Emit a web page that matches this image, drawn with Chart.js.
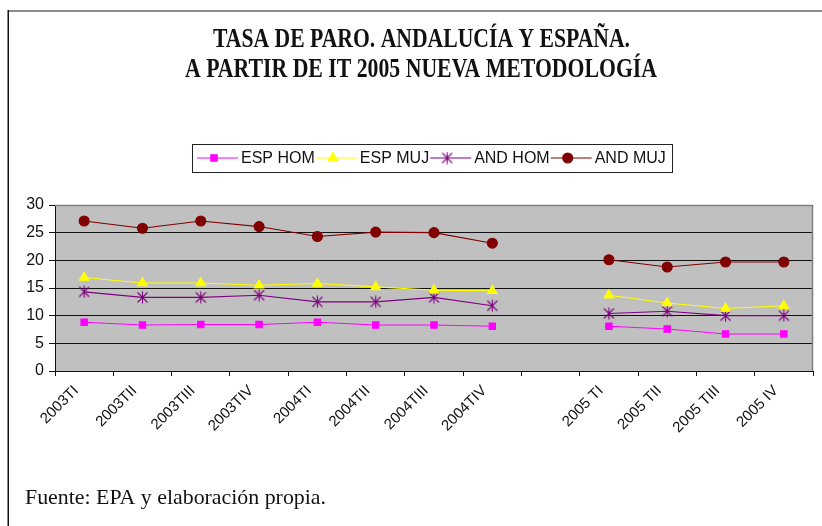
<!DOCTYPE html>
<html>
<head>
<meta charset="utf-8">
<script src="https://cdn.jsdelivr.net/npm/chart.js@4/dist/chart.umd.min.js"></script>
<style>
html,body{margin:0;padding:0;background:#fff;}
#wrap{position:relative;width:822px;height:526px;}
</style>
</head>
<body>
<div id="wrap"><canvas id="c" width="822" height="526"></canvas></div>
<script>
const titleLines = ['TASA DE PARO. ANDALUCÍA Y ESPAÑA.', 'A PARTIR DE IT 2005 NUEVA METODOLOGÍA'];
const sourceNote = 'Fuente: EPA y elaboración propia.';
const categories = ['2003TI','2003TII','2003TIII','2003TIV','2004TI','2004TII','2004TIII','2004TIV','','2005 TI','2005 TII','2005 TIII','2005 IV'];
const seriesNames = ['ESP HOM','ESP MUJ','AND HOM','AND MUJ'];
const espHom = [8.8, 8.3, 8.4, 8.4, 8.8, 8.3, 8.3, 8.1, null, 8.1, 7.6, 6.7, 6.7];
const espMuj = [16.9, 15.9, 15.9, 15.5, 15.8, 15.2, 14.6, 14.5, null, 13.7, 12.3, 11.3, 11.8];
const andHom = [14.3, 13.3, 13.3, 13.7, 12.5, 12.5, 13.3, 11.8, null, 10.4, 10.8, 10.0, 10.0];
const andMuj = [27.1, 25.8, 27.1, 26.1, 24.3, 25.1, 25.0, 23.1, null, 20.1, 18.8, 19.7, 19.7];
const yTicks = [0, 5, 10, 15, 20, 25, 30];

// asterisk marker (vertical bar + X)
function makeStar(color){
  const c = document.createElement('canvas');
  c.width = 13; c.height = 13;
  const g = c.getContext('2d');
  g.strokeStyle = color; g.lineWidth = 1.1;
  g.beginPath();
  g.moveTo(6.5,0.5); g.lineTo(6.5,12.5);
  g.moveTo(1.5,1.5); g.lineTo(11.5,11.5);
  g.moveTo(11.5,1.5); g.lineTo(1.5,11.5);
  g.stroke();
  return c;
}
const starImg = makeStar('#800080');

const styles = [
  {color:'#FF00FF', pointStyle:'rect', radius:4.5},
  {color:'#FFFF00', pointStyle:'triangle', radius:5.5},
  {color:'#800080', pointStyle:starImg, radius:6},
  {color:'#800000', pointStyle:'circle', radius:5}
];
const values = [espHom, espMuj, andHom, andMuj];

const datasets = seriesNames.map((n,i)=>({
  label:n,
  data: values[i],
  borderColor: styles[i].color,
  backgroundColor: styles[i].color,
  pointBackgroundColor: styles[i].color,
  pointBorderColor: styles[i].color,
  pointStyle: styles[i].pointStyle,
  pointRadius: styles[i].radius,
  pointHoverRadius: styles[i].radius,
  borderWidth: 1.1,
  tension: 0,
  spanGaps: false
}));

const decor = {
  id:'decor',
  beforeDraw(chart){
    const {ctx, chartArea:a} = chart;
    ctx.save();
    ctx.fillStyle = '#C0C0C0';
    ctx.fillRect(a.left, a.top, a.right-a.left, a.bottom-a.top);
    ctx.restore();
  },
  afterDraw(chart){
    const {ctx, chartArea:a} = chart;
    ctx.save();
    // plot border (top/right)
    ctx.strokeStyle = '#808080'; ctx.lineWidth = 1.5;
    ctx.beginPath();
    ctx.moveTo(a.left, a.top+0.5); ctx.lineTo(a.right-0.5, a.top+0.5); ctx.lineTo(a.right-0.5, a.bottom);
    ctx.stroke();
    // outer frame
    ctx.strokeStyle = '#8c8c8c'; ctx.lineWidth = 2;
    ctx.beginPath(); ctx.moveTo(8, 11); ctx.lineTo(822, 11); ctx.stroke();
    ctx.strokeStyle = '#111'; ctx.lineWidth = 1.5;
    ctx.beginPath(); ctx.moveTo(8.25, 10); ctx.lineTo(8.25, 526); ctx.stroke();
    // title
    ctx.fillStyle = '#111';
    ctx.textAlign = 'center'; ctx.textBaseline = 'alphabetic';
    ctx.font = 'bold 27px "Liberation Serif", "Times New Roman", serif';
    ctx.fillText(titleLines[0], 421.5, 47, 417);
    ctx.fillText(titleLines[1], 421, 77, 472);
    // source
    ctx.textAlign = 'left';
    ctx.font = '22px "Liberation Serif", "Times New Roman", serif';
    ctx.fillText(sourceNote, 25, 504, 301);
    // legend
    const lx0 = 192, ly0 = 144, lx1 = 672, ly1 = 172, cy = 158;
    ctx.fillStyle = '#fff';
    ctx.fillRect(lx0, ly0, lx1-lx0, ly1-ly0);
    ctx.strokeStyle = '#222'; ctx.lineWidth = 1;
    ctx.strokeRect(lx0+0.5, ly0+0.5, lx1-lx0, ly1-ly0);
    ctx.font = '16px "Liberation Sans", Arial, sans-serif';
    ctx.textBaseline = 'middle';
    let x = 197;
    chart.data.datasets.forEach((ds,i)=>{
      ctx.strokeStyle = ds.borderColor; ctx.lineWidth = 1.1;
      ctx.beginPath(); ctx.moveTo(x, cy); ctx.lineTo(x+41, cy); ctx.stroke();
      ctx.fillStyle = ds.pointBackgroundColor;
      ctx.strokeStyle = ds.pointBorderColor;
      Chart.helpers.drawPoint(ctx, {pointStyle: ds.pointStyle, radius: ds.pointRadius, borderWidth: 1, rotation: 0}, x+17, cy);
      ctx.fillStyle = '#111';
      const tx = x + 44;
      ctx.fillText(ds.label, tx, cy+0.5);
      x = tx + ctx.measureText(ds.label).width + 1;
    });
    ctx.restore();
  }
};

new Chart(document.getElementById('c'), {
  type:'line',
  data:{labels:categories, datasets},
  options:{
    responsive:false,
    animation:false,
    devicePixelRatio:1,
    layout:{padding:{left:0,right:9,top:205,bottom:0}},
    plugins:{legend:{display:false}, title:{display:false}, tooltip:{enabled:false}},
    scales:{
      x:{
        offset:true,
        grid:{display:true, drawOnChartArea:false, drawTicks:true, tickLength:5, color:'#111', offset:true},
        border:{color:'#111', width:1},
        ticks:{color:'#111', font:{family:'"Liberation Sans", Arial, sans-serif', size:15}, minRotation:45, maxRotation:45, autoSkip:false, padding:6, labelOffset:-8},
        afterFit(s){ s.height = 155; }
      },
      y:{
        min:0, max:30,
        afterBuildTicks(s){ s.ticks = yTicks.map(v=>({value:v})); },
        grid:{color:'#111', lineWidth:1, drawTicks:true, tickLength:6},
        border:{color:'#111', width:1},
        ticks:{color:'#111', font:{family:'"Liberation Sans", Arial, sans-serif', size:16}, padding:5},
        afterFit(s){ s.width = 55; }
      }
    }
  },
  plugins:[decor]
});
</script>
</body>
</html>
